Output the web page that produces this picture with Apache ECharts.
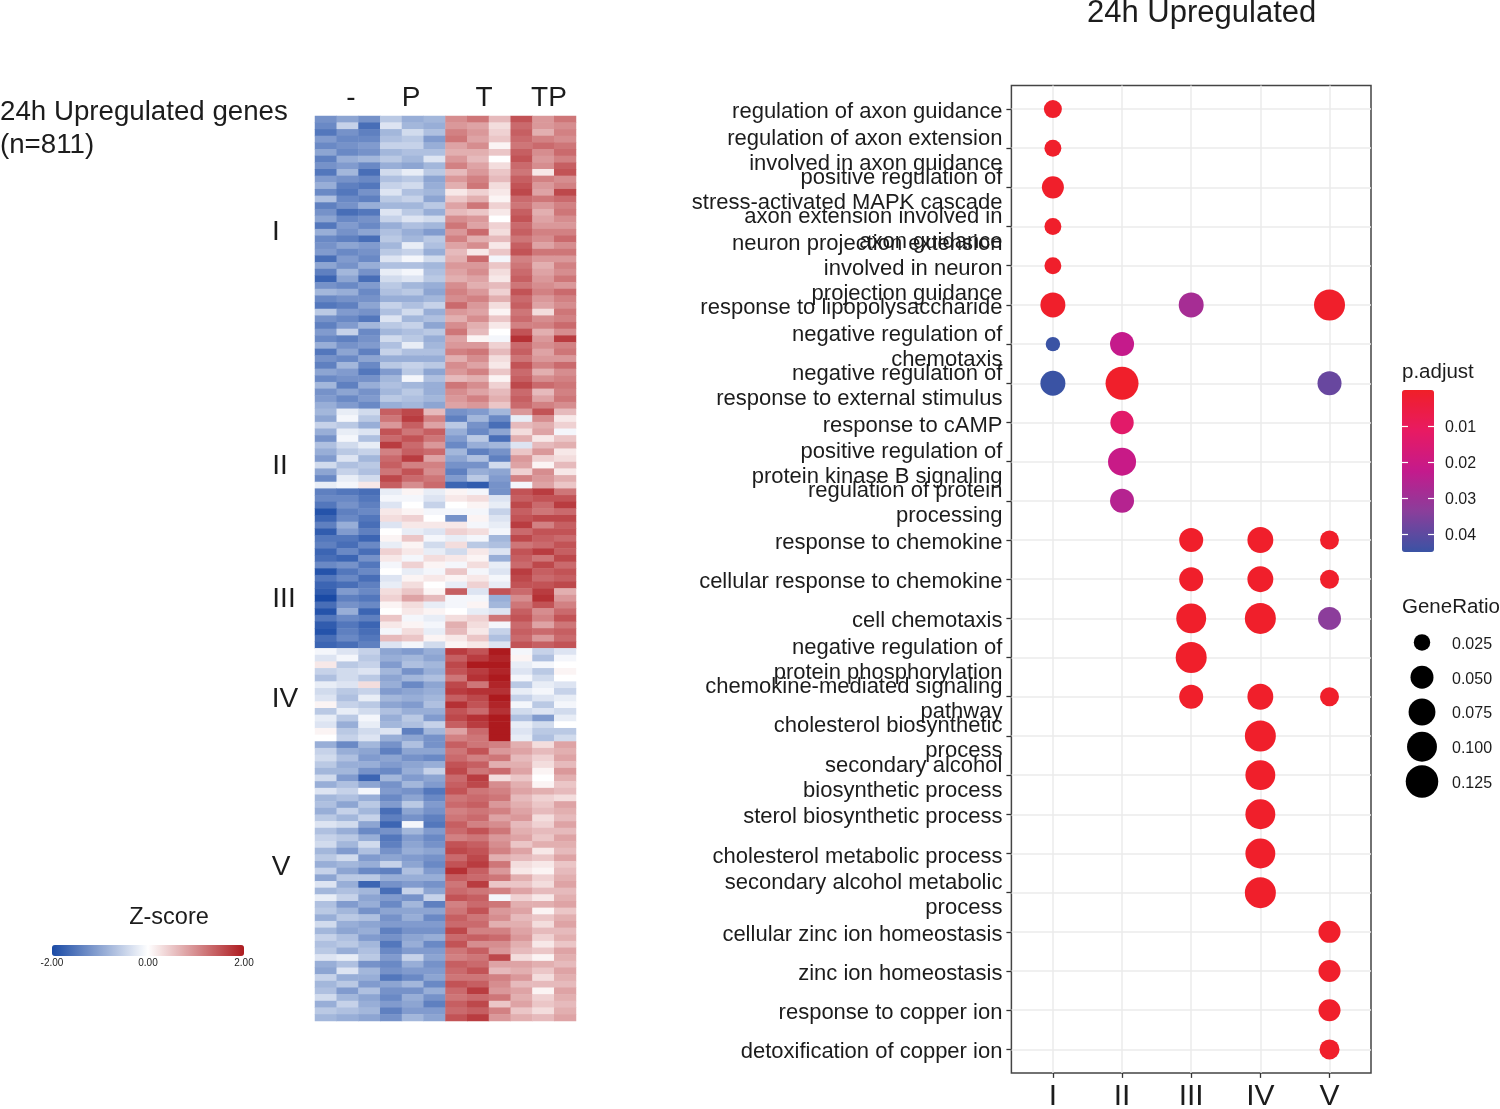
<!DOCTYPE html>
<html><head><meta charset="utf-8">
<style>html,body{margin:0;padding:0;background:#fff}#c{width:1500px;height:1109px}</style>
<script src="https://cdn.jsdelivr.net/npm/echarts@6/dist/echarts.min.js"></script>
</head><body><div id="c"></div>
<script>
// z-score x 10, read by eye, one row per band of genes
const clusterI = [
[-12,-10,-12,-6,-9,-8,10,12,6,15,9,12],[-13,-5,-16,-3,-8,-9,9,8,3,13,9,10],[-15,-12,-14,-8,-4,-7,11,9,4,14,7,11],[-11,-13,-13,-7,-6,-11,12,8,5,13,11,10],
[-13,-12,-11,-5,-5,-9,8,10,1,12,13,12],[-10,-13,-12,-8,-7,-7,7,7,5,14,10,13],[-14,-9,-8,-6,-8,-3,9,6,0,15,9,11],[-12,-11,-13,-9,-10,-8,11,8,3,13,10,14],
[-15,-8,-16,-4,-2,-6,6,9,5,12,2,15],[-11,-12,-13,-7,-6,-10,9,11,6,14,11,10],[-9,-14,-15,-5,-4,-9,7,12,3,15,9,11],[-13,-15,-12,-3,-7,-8,2,4,2,16,8,16],
[-7,-13,-14,-6,-5,-10,5,7,1,13,12,13],[-14,-12,-9,-8,-8,-6,8,12,4,12,9,11],[-12,-16,-15,-3,-6,-9,6,5,2,14,7,12],[-10,-13,-12,-5,-3,-4,10,9,0,15,8,10],
[-15,-11,-13,-9,-7,-8,12,8,4,13,9,9],[-9,-12,-10,-7,-9,-11,9,13,3,14,11,11],[-13,-14,-16,-6,-8,-6,11,7,6,12,10,13],[-12,-10,-11,-8,-2,-7,8,10,2,14,8,10],
[-11,-13,-12,-6,-5,-9,6,2,5,15,12,12],[-16,-11,-13,-3,-1,-4,7,13,-1,11,9,9],[-10,-12,-9,-7,-7,-8,9,9,5,12,7,11],[-14,-8,-12,-2,-1,-7,8,10,3,13,8,10],
[-17,-10,-16,-4,-3,-6,7,8,2,14,9,12],[-12,-13,-11,-6,-8,-9,10,7,6,12,10,9],[-8,-9,-13,-7,-6,-10,11,9,4,15,11,13],[-13,-12,-12,-9,-9,-8,10,11,7,13,9,11],
[-15,-14,-10,-5,-7,-5,13,9,3,14,8,10],[-6,-11,-12,-7,-4,-9,9,8,1,12,3,12],[-12,-13,-15,-3,-8,-7,7,10,5,13,10,11],[-14,-11,-8,-6,-5,-10,10,7,2,11,11,13],
[-11,-5,-13,-8,-7,-6,12,6,0,15,7,10],[-13,-14,-12,-4,-6,-9,8,1,-1,18,9,17],[-9,-12,-11,-7,-2,-8,9,9,4,13,10,11],[-15,-10,-14,-5,-7,-7,11,12,6,14,8,12],
[-12,-13,-10,-9,-9,-9,7,10,3,12,9,9],[-14,-8,-13,-6,-5,-6,10,8,2,15,11,13],[-10,-11,-15,-11,-6,-10,9,11,5,13,7,10],[-13,-12,-12,-8,-1,-7,6,7,1,14,10,11],
[-8,-14,-9,-7,-8,-9,12,10,4,16,13,12],[-12,-10,-12,-8,-6,-9,10,8,6,13,6,11],[-11,-13,-11,-6,-7,-8,9,11,7,14,8,12],[-9,-11,-13,-9,-8,-10,8,9,5,13,11,10]
];
const clusterII = [
[-8,-2,-4,14,16,6,-12,-11,-8,9,15,6],[-10,-1,-6,12,17,11,-14,-8,-13,-2,10,2],[-5,-6,-9,9,14,8,-6,-12,-16,6,7,4],[-9,-2,-3,15,12,14,-9,-13,-10,3,8,-1],
[-12,-1,-7,13,15,12,-11,-6,-16,7,2,5],[-7,-4,-2,17,13,9,-13,-9,-8,-3,6,7],[-9,-6,-5,11,14,13,-8,-14,-12,5,9,2],[-11,-3,-8,13,17,8,-10,-7,-14,9,4,3],
[-4,-7,-6,14,11,11,-12,-12,-4,8,1,6],[-10,-5,-7,12,15,10,-14,-9,-10,4,10,2],[-13,-2,-4,16,13,12,-11,-6,-11,11,9,7],[-2,-1,2,14,10,13,-17,-18,-12,-1,8,5]
];
const clusterIII = [
[-14,-15,-16,-2,1,-2,1,-1,-12,15,17,12],[-13,-13,-15,-1,-1,-3,2,3,-3,14,15,15],[-15,-12,-14,-3,0,-5,0,1,-2,16,13,17],[-19,-14,-13,2,1,-1,-1,-1,-5,14,12,13],
[-17,-13,-15,3,4,0,-12,1,-3,15,16,16],[-14,-9,-16,-3,2,2,2,-1,-2,17,11,14],[-18,-11,-14,0,-2,-3,4,3,-1,13,15,15],[-15,-15,-17,1,5,-1,-2,-1,-8,16,14,13],
[-14,-16,-13,-2,1,-4,3,-6,-7,12,13,15],[-17,-13,-16,4,2,-2,-4,2,-3,15,17,14],[-16,-17,-12,2,-1,3,2,1,-9,14,12,16],[-13,-12,-15,-1,4,1,-1,3,-2,13,16,13],
[-19,-15,-13,0,-2,-1,5,-1,-3,17,14,15],[-15,-13,-16,-3,1,2,1,2,-1,16,13,14],[-17,-16,-14,-2,3,0,-2,4,-2,15,15,16],[-18,-11,-13,3,5,1,14,-3,15,13,17,7],
[-20,-14,-15,4,8,6,-1,-1,-9,10,18,9],[-16,-12,-13,1,3,-2,-1,1,-8,12,15,11],[-19,-9,-17,0,2,1,0,-2,-3,14,10,13],[-15,-13,-14,5,-1,-2,3,4,12,15,11,15],
[-18,-15,-17,2,1,-1,7,3,-1,13,8,12],[-19,-14,-16,-1,3,-2,6,2,-5,14,13,14],[-16,-13,-15,6,5,1,2,5,-7,13,9,13],[-17,-16,-14,-3,-1,-4,1,2,-3,15,14,15]
];
const clusterIV = [
[-1,-3,-5,-10,-11,-9,17,15,20,-1,-5,-3],[-3,-1,-6,-9,-8,-10,14,17,19,1,-7,-1],[2,-6,-5,-11,-7,-8,16,20,20,-2,-1,0],[-5,-4,-3,-8,-12,-9,15,17,19,-3,-6,1],
[-7,-4,-6,-10,-8,-7,12,18,20,-1,-4,0],[-2,-3,3,-9,-13,-10,16,12,19,-6,-2,-3],[-4,-6,-5,-11,-10,-9,17,18,18,-2,-1,-5],[-3,-7,-2,-8,-9,-8,14,16,20,-5,-3,-2],
[1,-5,-6,-10,-11,-7,18,15,19,-1,-6,-1],[-6,-2,-4,-7,-9,-9,15,13,18,-4,-3,-4],[-2,-6,-1,-9,-6,-11,16,18,20,-7,-11,-2],[-3,-9,-2,-8,-7,-5,14,17,20,-2,-4,0],
[1,-6,-4,-3,-14,-8,8,13,20,-3,-6,-6],[0,-5,-3,-9,-10,-12,11,12,20,-2,-7,-4]
];
const clusterV = [
[-9,-13,-8,-12,-7,-12,14,12,11,7,3,8],[-5,-9,-10,-14,-10,-10,12,15,9,8,6,7],[-4,-7,-11,-10,-12,-13,13,11,12,6,4,8],[-6,-9,-9,-11,-10,-9,15,14,7,7,3,6],
[-8,-8,-12,-13,-9,-5,16,12,13,8,1,9],[-4,-11,-17,-8,-11,-10,13,17,3,5,0,7],[-9,-7,-10,-12,-8,-11,14,16,10,7,1,5],[-3,-5,-1,-11,-12,-15,15,12,11,8,7,6],
[-8,-7,-9,-13,-10,-13,12,13,12,6,4,3],[-7,-10,-6,-11,-6,-11,13,14,9,7,5,8],[-9,-5,-8,-16,-10,-12,11,12,11,8,6,7],[-6,-8,-5,-14,-12,-14,12,13,8,9,3,6],
[-3,-4,-10,-17,-1,-15,14,11,10,6,4,8],[-7,-9,-13,-12,-8,-11,13,15,12,7,6,6],[-5,-6,-9,-15,-11,-13,11,12,9,8,5,8],[-4,-8,-4,-14,-10,-12,15,14,10,5,7,7],
[-8,-11,-7,-12,-9,-10,16,15,11,8,2,6],[-6,-4,-11,-10,-11,-12,13,16,7,6,5,8],[-9,-8,-9,-5,-10,-13,15,17,12,3,2,5],[-5,-10,-13,-14,-7,-11,18,14,9,2,1,6],
[-10,-6,-6,-9,-9,-9,14,13,12,7,4,7],[-3,-9,-17,-12,-11,-12,12,17,5,5,3,8],[-8,-7,-8,-16,-5,-10,13,12,11,8,6,6],[-2,-5,-10,-11,-12,-5,15,14,-1,4,2,7],
[-7,-11,-9,-13,-8,-14,11,13,12,7,7,8],[-6,-8,-12,-10,-10,-10,12,15,9,8,1,5],[-9,-6,-7,-12,-9,-13,14,12,10,6,5,7],[-4,-9,-10,-11,-11,-11,13,13,7,7,3,8],
[-8,-10,-9,-14,-12,-12,16,11,11,8,6,6],[-5,-7,-11,-12,-10,-9,13,14,13,9,4,7],[-7,-6,-8,-15,-9,-13,15,10,10,7,2,5],[-6,-9,-7,-13,-11,-11,12,14,9,6,5,8],
[-3,-2,-6,-11,-5,-10,11,12,16,3,1,7],[-9,-7,-12,-13,-9,-12,14,13,8,8,7,6],[-10,-3,-8,-12,-11,-11,13,15,6,7,5,8],[-5,-9,-9,-15,-13,-10,12,12,11,9,3,7],
[-8,-6,-11,-10,-8,-13,15,14,10,6,6,6],[-7,-11,-7,-12,-12,-9,13,17,9,8,1,8],[-4,-8,-10,-13,-9,-12,12,13,12,7,4,7],[-9,-5,-9,-11,-10,-14,14,16,5,8,5,6],
[-6,-7,-8,-14,-11,-11,13,14,11,5,3,7],[-8,-9,-10,-12,-8,-10,15,17,9,7,6,8]
];
const heatColumns = ['-1','-2','-3','P1','P2','P3','T1','T2','T3','TP1','TP2','TP3'];
const heatGroups = [['-',351],['P',411],['T',484],['TP',549]];
const clusterLabels = [['I',276,232],['II',280,466],['III',284,599],['IV',285,699],['V',281,867]];

const termNames = [
'regulation of axon guidance','regulation of axon extension\ninvolved in axon guidance','positive regulation of\nstress-activated MAPK cascade',
'axon extension involved in\naxon guidance','neuron projection extension\ninvolved in neuron\nprojection guidance','response to lipopolysaccharide',
'negative regulation of\nchemotaxis','negative regulation of\nresponse to external stimulus','response to cAMP',
'positive regulation of\nprotein kinase B signaling','regulation of protein\nprocessing','response to chemokine',
'cellular response to chemokine','cell chemotaxis','negative regulation of\nprotein phosphorylation',
'chemokine-mediated signaling\npathway','cholesterol biosynthetic\nprocess','secondary alcohol\nbiosynthetic process',
'sterol biosynthetic process','cholesterol metabolic process','secondary alcohol metabolic\nprocess',
'cellular zinc ion homeostasis','zinc ion homeostasis','response to copper ion','detoxification of copper ion'];
const clusterNames = ['I','II','III','IV','V'];
// [cluster index, term index, p.adjust, GeneRatio]
const dots = [
[0,0,.0005,.029],[0,1,.0005,.026],[0,2,.0005,.045],[0,3,.0005,.026],[0,4,.0005,.026],
[0,5,.0005,.062],[2,5,.028,.062],[4,5,.0005,.11],
[0,6,.0444,.0215],[1,6,.022,.056],
[0,7,.0444,.062],[1,7,.0005,.13],[4,7,.038,.056],
[1,8,.013,.052],[1,9,.021,.084],[1,10,.025,.056],
[2,11,.0005,.056],[3,11,.0005,.068],[4,11,.0005,.032],
[2,12,.0005,.056],[3,12,.0005,.068],[4,12,.0005,.032],
[2,13,.0005,.10],[3,13,.0005,.11],[4,13,.033,.05],
[2,14,.0005,.11],
[2,15,.0005,.056],[3,15,.0005,.068],[4,15,.0005,.032],
[3,16,.0005,.11],[3,17,.0005,.10],[3,18,.0005,.10],[3,19,.0005,.10],[3,20,.0005,.11],
[4,21,.0005,.045],[4,22,.0005,.045],[4,23,.0005,.045],[4,24,.0005,.036]
];
const ratioTicks = [0.025,0.05,0.075,0.1,0.125];
const pTicks = [0.01,0.02,0.03,0.04];
const zTicks = [-2,0,2];

const FONT = '"Liberation Sans",Arial,sans-serif';
const INK = '#1c1c1c';
const heatRows = [].concat(clusterI,clusterII,clusterIII,clusterIV,clusterV);
const heatData = [];
heatRows.forEach((r,y)=>r.forEach((v,x)=>heatData.push([x,y,v/10])));
const rowIds = heatRows.map((_,i)=>String(i));
const dia = r => 12 + 21*Math.sqrt(Math.max(0,(r-0.02)/0.11));
const seq = n => Array.from({length:n},(_,i)=>i);

const txt = (t,x,y,size,align) => ({type:'text',x,y,style:{text:t,font:`${size}px ${FONT}`,fill:INK,textAlign:align||'left',textVerticalAlign:'middle'}});
const noBounds = {outerBoundsMode:'none'};
const ratioLabels = ratioTicks.map(v=>v.toFixed(3));

const chart = echarts.init(document.getElementById('c'),null,{renderer:'canvas',width:1500,height:1109});
chart.setOption({
  animation:false, backgroundColor:'#fff', textStyle:{fontFamily:FONT},
  grid:[
    {...noBounds,left:315,top:116,width:261,height:905},
    {...noBounds,left:1011.4,top:85.5,width:359.6,height:987.4,show:true,borderColor:'#444',borderWidth:1.5,backgroundColor:'#fff'},
    {...noBounds,left:52,top:945,width:192,height:11},
    {...noBounds,left:1402,top:390,width:32,height:162},
    {...noBounds,left:1402,top:625,width:40,height:174},
    {...noBounds,left:1402,top:627,width:40,height:174}
  ],
  xAxis:[
    {gridIndex:0,type:'category',data:heatColumns,show:false},
    {gridIndex:1,type:'value',min:-0.6,max:4.6,
      axisLine:{show:false,onZero:false},axisTick:{show:true,length:5,lineStyle:{color:'#333',width:1.3},customValues:seq(5)},
      axisLabel:{customValues:seq(5),formatter:v=>clusterNames[v],fontSize:30,color:INK,margin:9,fontFamily:FONT},
      splitLine:{show:true,lineStyle:{color:'#ebebeb',width:1.5}}},
    {gridIndex:2,type:'value',min:-2,max:2,interval:2,axisLine:{show:false,onZero:false},axisTick:{show:false},splitLine:{show:false},
      axisLabel:{fontSize:10,color:INK,margin:2,customValues:zTicks,formatter:v=>v.toFixed(2),fontFamily:FONT}},
    {gridIndex:3,type:'value',min:0,max:1,show:false},
    {gridIndex:4,type:'value',min:0,max:1,show:false},
    {gridIndex:5,type:'value',min:0,max:1,show:false}
  ],
  yAxis:[
    {gridIndex:0,type:'category',data:rowIds,inverse:true,show:false},
    {gridIndex:1,type:'value',inverse:true,min:-0.6,max:24.6,
      axisLine:{show:false,onZero:false},axisTick:{show:true,length:5,lineStyle:{color:'#333',width:1.3},customValues:seq(25)},
      axisLabel:{show:false},
      splitLine:{show:true,lineStyle:{color:'#ebebeb',width:1.5}}},
    {gridIndex:2,type:'value',min:0,max:1,show:false},
    {gridIndex:3,type:'value',inverse:true,min:0,max:0.045,position:'right',z:10,
      axisLine:{show:false,onZero:false},axisTick:{show:true,inside:true,length:6,lineStyle:{color:'#fff',width:1.2},customValues:pTicks},
      axisLabel:{show:false},splitLine:{show:false}},
    {gridIndex:4,type:'category',inverse:true,position:'right',data:ratioLabels,
      axisLine:{show:false,onZero:false},axisTick:{show:false},splitLine:{show:false},axisLabel:{show:false}},
    {gridIndex:3,type:'value',inverse:true,min:0,max:0.045,position:'left',z:10,
      axisLine:{show:false,onZero:false},axisTick:{show:true,inside:true,length:6,lineStyle:{color:'#fff',width:1.2},customValues:pTicks},
      axisLabel:{show:false},splitLine:{show:false}},
    // label-only axes, offset a few pixels down from the ticks as in the reference
    {gridIndex:1,type:'value',inverse:true,min:-0.6765,max:24.5235,position:'left',
      axisLine:{show:false,onZero:false},axisTick:{show:false,customValues:seq(25)},splitLine:{show:false},
      axisLabel:{customValues:seq(25),formatter:v=>termNames[v],fontSize:22,lineHeight:25,color:INK,margin:9,align:'right',fontFamily:FONT}},
    {gridIndex:3,type:'value',inverse:true,min:-0.00056,max:0.04444,position:'right',
      axisLine:{show:false,onZero:false},axisTick:{show:false,customValues:pTicks},splitLine:{show:false},
      axisLabel:{fontSize:16,color:INK,margin:11,customValues:pTicks,formatter:v=>v.toFixed(2),fontFamily:FONT}},
    {gridIndex:5,type:'category',inverse:true,position:'right',data:ratioLabels,
      axisLine:{show:false,onZero:false},axisTick:{show:false},splitLine:{show:false},
      axisLabel:{fontSize:16,color:INK,margin:10,interval:0,fontFamily:FONT}}
  ],
  visualMap:[
    {type:'continuous',seriesIndex:0,dimension:2,min:-2,max:2,orient:'horizontal',left:52,top:945,padding:0,itemWidth:11,itemHeight:192,
     text:null,calculable:false,hoverLink:false,showLabel:false,
     inRange:{color:['#1a4aa5','#ffffff','#ad1a1e']}},
    {type:'continuous',seriesIndex:1,dimension:2,min:0,max:0.0444,orient:'vertical',inverse:true,left:1402,top:390,padding:0,itemWidth:32,itemHeight:162,
     text:null,calculable:false,hoverLink:false,
     inRange:{color:['#f01f28','#e81a62','#c41a8c','#8a3e9b','#3a53a4']}}
  ],
  series:[
    {type:'heatmap',xAxisIndex:0,yAxisIndex:0,data:heatData,progressive:0,silent:true,emphasis:{disabled:true}},
    {type:'scatter',xAxisIndex:1,yAxisIndex:1,data:dots,encode:{x:0,y:1},symbolSize:v=>dia(v[3]),itemStyle:{opacity:1},silent:true,z:5},
    {type:'scatter',xAxisIndex:4,yAxisIndex:4,data:ratioTicks.map((r,i)=>[0.5,i,r]),symbolSize:v=>dia(v[2]),itemStyle:{color:'#000',opacity:1},silent:true}
  ],
  graphic:{elements:[
    txt('24h Upregulated',1087,13,31),
    txt('24h Upregulated genes',0,112,27.7),
    txt('(n=811)',0,145,27.7),
    ...heatGroups.map(g=>txt(g[0],g[1],98,28,'center')),
    ...clusterLabels.map(c=>txt(c[0],c[1],c[2],28,'center')),
    txt('Z-score',169,918,23.5,'center'),
    txt('p.adjust',1402,372,20.5),
    txt('GeneRatio',1402,607,20.5)
  ]}
});
</script></body></html>
